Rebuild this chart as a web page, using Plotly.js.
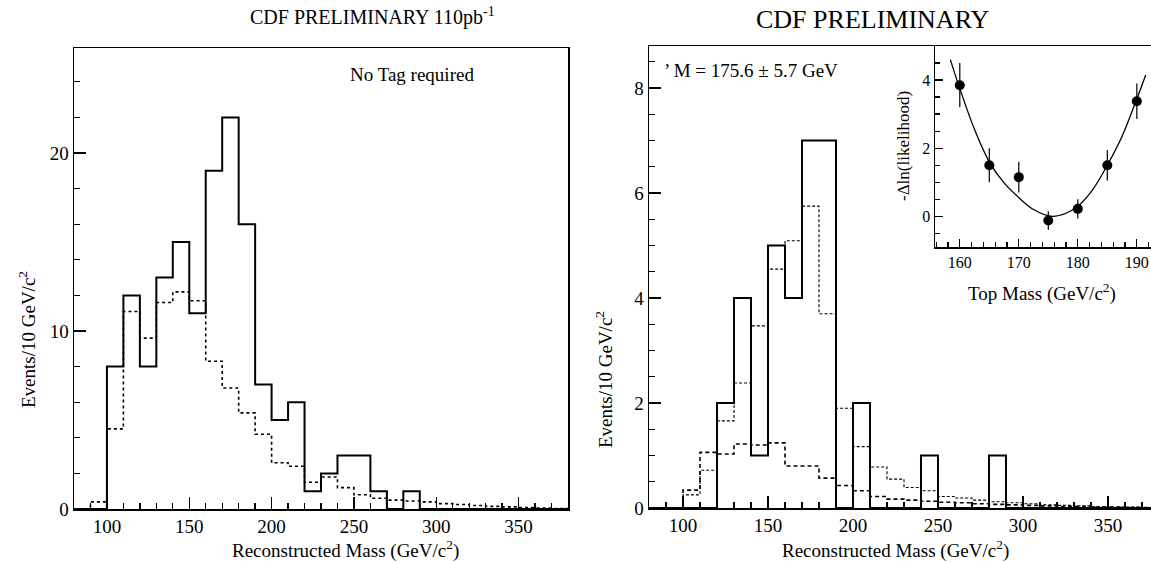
<!DOCTYPE html>
<html>
<head>
<meta charset="utf-8">
<script src="https://cdn.plot.ly/plotly-3.0.1.min.js"></script>
<style>html,body{margin:0;padding:0;background:#fff}#chart{width:1151px;height:562px}</style>
</head>
<body>
<div id="chart"></div>
<script>
// ---------- data ----------
// bin lower edges (10 GeV bins)
const binStarts = [80,90,100,110,120,130,140,150,160,170,180,190,200,210,220,230,240,250,260,270,280,290,300,310,320,330,340,350,360,370];
const binWidth = 10;

// Left panel: No Tag required
const leftEvents = [0,0,8,12,8,13,15,11,19,22,16,7,5,6,1,2,3,3,1,0,1,0,0,0,0,0,0,0,0,0];
const leftExpected = [0,0.4,4.5,11.1,9.6,11.6,12.2,11.7,8.3,6.8,5.4,4.2,2.6,2.4,1.5,1.8,1.2,0.8,0.6,0.5,0.45,0.4,0.3,0.25,0.2,0.15,0.12,0.08,0.05,0.03];

// Right panel: tagged sample
const rightEvents = [0,0,0,0,2,4,1,5,4,7,7,0,2,0,0,0,1,0,0,0,1,0,0,0,0,0,0,0,0,0];
const rightSignal = [0,0,0.25,0.72,1.66,2.38,3.47,4.55,5.09,5.75,3.7,1.9,1.17,0.78,0.55,0.39,0.33,0.22,0.19,0.15,0.12,0.1,0.08,0.06,0.05,0.04,0.03,0.02,0.02,0.01];
const rightBackground = [0,0,0.34,1.06,1.03,1.22,1.2,1.24,0.8,0.8,0.57,0.43,0.33,0.22,0.17,0.15,0.13,0.11,0.1,0.08,0.07,0.06,0.05,0.04,0.03,0.03,0.02,0.02,0.01,0.01];

// Inset: -Delta ln(likelihood) vs top mass
const topMass = [160,165,170,175,180,185,190];
const dlnL = [3.85,1.5,1.15,-0.12,0.22,1.5,3.38];
const dlnLErr = [0.65,0.5,0.45,0.27,0.28,0.45,0.52];
const fitMass = [158.4,160,162.5,165,167.5,170,172.5,175.6,178,180,182.5,185,187.5,190,191.5];
const fitVal = [4.6,3.75,2.55,1.6,0.98,0.55,0.2,0.0,0.09,0.3,0.78,1.5,2.35,3.45,4.15];

// ---------- helpers ----------
function stepXY(starts, vals) {
  const x = starts.slice();
  const y = vals.slice();
  x.push(starts[starts.length - 1] + binWidth);
  y.push(vals[vals.length - 1]);
  return {x, y};
}

const W = 1151, H = 562;
const px = v => v / W;
const py = v => 1 - v / H;
const FONT = "Liberation Serif, Times New Roman, serif";
const f = s => ({family: FONT, size: s, color: '#000'});

function hist(starts, vals, xa, ya, dash, width) {
  const s = stepXY(starts, vals);
  return {x: s.x, y: s.y, xaxis: xa, yaxis: ya, type: 'scatter', mode: 'lines',
    line: {shape: 'hv', color: '#000', width: width, dash: dash}, hoverinfo: 'skip', showlegend: false};
}

const traces = [
  hist(binStarts, leftExpected, 'x', 'y', '3px,3px', 1.6),
  hist(binStarts, leftEvents, 'x', 'y', 'solid', 2),
  hist(binStarts, rightSignal, 'x2', 'y2', '3px,2px', 1.1),
  hist(binStarts, rightBackground, 'x2', 'y2', '4px,3px', 1.6),
  hist(binStarts, rightEvents, 'x2', 'y2', 'solid', 2),
  {x: fitMass, y: fitVal, xaxis: 'x3', yaxis: 'y3', type: 'scatter', mode: 'lines',
   line: {shape: 'spline', color: '#000', width: 1.3}, showlegend: false, hoverinfo: 'skip'},
  {x: topMass, y: dlnL, xaxis: 'x3', yaxis: 'y3', type: 'scatter', mode: 'markers',
   marker: {color: '#000', size: 10},
   error_y: {type: 'data', array: dlnLErr, visible: true, color: '#000', thickness: 1.2, width: 0},
   showlegend: false, hoverinfo: 'skip'}
];

function axisBase(extra) {
  return Object.assign({
    showline: true, linecolor: '#000', linewidth: 1.5, mirror: true,
    ticks: 'inside', ticklen: 12, tickwidth: 1.3, tickcolor: '#000',
    showgrid: false, zeroline: false, tickfont: f(19), fixedrange: true
  }, extra);
}

const layout = {
  width: W, height: H,
  margin: {l: 0, r: 0, t: 0, b: 0},
  paper_bgcolor: '#fff', plot_bgcolor: 'rgba(0,0,0,0)',
  font: f(18),
  xaxis: axisBase({domain: [px(74), px(568)], anchor: 'y', range: [80, 380], dtick: 50, tick0: 0,
    minor: {dtick: 10, ticklen: 6, tickcolor: '#000', ticks: 'inside'}}),
  yaxis: axisBase({domain: [py(509), py(48)], anchor: 'x', range: [0, 25.9], dtick: 10, tick0: 0,
    minor: {dtick: 2, ticklen: 6, tickcolor: '#000', ticks: 'inside'}}),
  xaxis2: axisBase({domain: [px(649), 1], anchor: 'y2', range: [80, 375.3], dtick: 50, tick0: 0,
    minor: {dtick: 10, ticklen: 6, tickcolor: '#000', ticks: 'inside'}}),
  yaxis2: axisBase({domain: [py(508), py(46)], anchor: 'x2', range: [0, 8.8], dtick: 2, tick0: 0, mirror: false,
    minor: {dtick: 0.5, ticklen: 6, tickcolor: '#000', ticks: 'inside'}}),
  xaxis3: axisBase({domain: [px(935), 1], anchor: 'y3', range: [155.8, 192.4], dtick: 10, tick0: 0,
    ticklen: 8, tickfont: f(16), mirror: false,
    minor: {dtick: 2, ticklen: 5, tickcolor: '#000', ticks: 'inside'}}),
  yaxis3: axisBase({domain: [py(247), py(46)], anchor: 'x3', range: [-0.9, 5.0], dtick: 2, tick0: 0,
    ticklen: 8, tickfont: f(16), mirror: false,
    minor: {dtick: 0.5, ticklen: 5, tickcolor: '#000', ticks: 'inside'}}),
  shapes: [
    {type: 'rect', xref: 'paper', yref: 'paper', x0: px(935), x1: 1, y0: py(247), y1: py(46),
     fillcolor: '#fff', line: {width: 0}, layer: 'below'}
  ],
  annotations: [
    {text: 'CDF PRELIMINARY 110pb<sup>-1</sup>', x: px(372), y: py(17), xref: 'paper', yref: 'paper',
     showarrow: false, font: f(20), xanchor: 'center', yanchor: 'middle'},
    {text: 'CDF PRELIMINARY', x: px(873), y: py(20), xref: 'paper', yref: 'paper',
     showarrow: false, font: f(26), xanchor: 'center', yanchor: 'middle'},
    {text: 'No Tag required', x: px(412), y: py(74), xref: 'paper', yref: 'paper',
     showarrow: false, font: f(19), xanchor: 'center', yanchor: 'middle'},
    {text: '\u2019 M = 175.6 \u00b1 5.7 GeV', x: px(662), y: py(70), xref: 'paper', yref: 'paper',
     showarrow: false, font: f(19), xanchor: 'left', yanchor: 'middle'},
    {text: 'Events/10 GeV/c<sup>2</sup>', x: px(27), y: py(340), xref: 'paper', yref: 'paper',
     showarrow: false, font: f(19), textangle: -90, xanchor: 'center', yanchor: 'middle'},
    {text: 'Reconstructed Mass (GeV/c<sup>2</sup>)', x: px(345), y: py(549), xref: 'paper', yref: 'paper',
     showarrow: false, font: f(19), xanchor: 'center', yanchor: 'middle'},
    {text: 'Events/10 GeV/c<sup>2</sup>', x: px(604), y: py(380), xref: 'paper', yref: 'paper',
     showarrow: false, font: f(19), textangle: -90, xanchor: 'center', yanchor: 'middle'},
    {text: 'Reconstructed Mass (GeV/c<sup>2</sup>)', x: px(895), y: py(549), xref: 'paper', yref: 'paper',
     showarrow: false, font: f(19), xanchor: 'center', yanchor: 'middle'},
    {text: '-\u0394ln(likelihood)', x: px(904), y: py(146), xref: 'paper', yref: 'paper',
     showarrow: false, font: f(17), textangle: -90, xanchor: 'center', yanchor: 'middle'},
    {text: 'Top Mass (GeV/c<sup>2</sup>)', x: px(1042), y: py(292), xref: 'paper', yref: 'paper',
     showarrow: false, font: f(19), xanchor: 'center', yanchor: 'middle'}
  ]
};

Plotly.newPlot('chart', traces, layout, {staticPlot: true, displayModeBar: false});
</script>
</body>
</html>
